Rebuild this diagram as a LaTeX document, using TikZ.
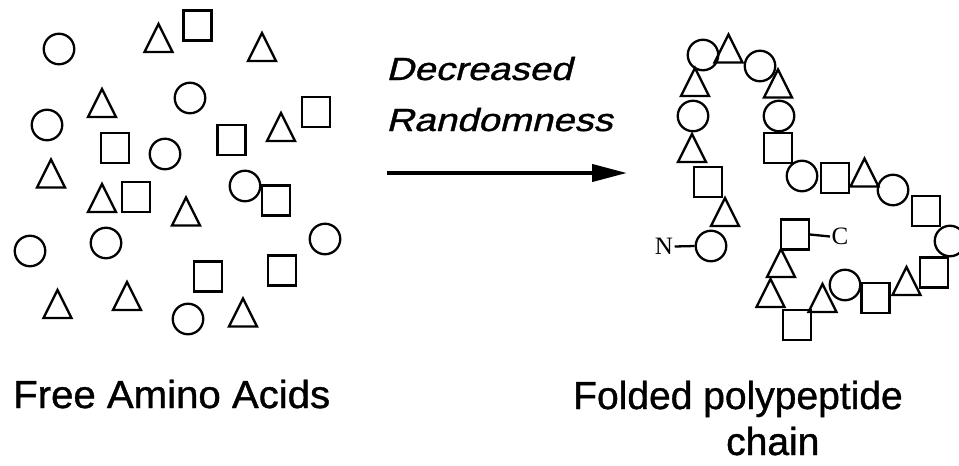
\documentclass[tikz,border=0pt]{standalone}
\usepackage{fontspec}
\usepackage{graphicx}
\setmainfont{Liberation Sans}
\newfontfamily\serifN{Liberation Serif}
\newfontfamily\lblfont[FakeBold=1.0]{Liberation Sans}
\newfontfamily\capfont[FakeBold=1.0,FakeSlant=0.21]{Liberation Sans}
\usetikzlibrary{arrows.meta}
\begin{document}
\begin{tikzpicture}[x=1pt,y=-1pt,
  shp/.style={draw=black,line width=2.3pt},
  ac/.style={shp,circle,minimum size=30.5pt,inner sep=0pt},
  sq/.style={shp,rectangle,minimum width=27.8pt,minimum height=29.8pt,inner sep=0pt},
  tri/.pic={\draw[shp,line join=miter] (-14,14) -- (0,-14) -- (14,14) -- cycle;},
  lbl/.style={inner sep=0pt,anchor=base west,font=\lblfont\fontsize{39}{47}\selectfont},
  ital/.style={inner sep=0pt,anchor=base west,font=\capfont\fontsize{32}{38}\selectfont},
  term/.style={inner sep=1.5pt,font=\serifN\fontsize{25}{25}\selectfont},
  bigarrow/.style={line width=4pt,-{Triangle[length=35pt,width=17pt]}}]
\useasboundingbox (0,0) rectangle (959,466);

% ---------- free amino acids ----------
\node[ac] (la1) at (59,49) {};
\node[ac] (la2) at (190,98) {};
\node[ac] (la3) at (47,125) {};
\node[ac] (la4) at (165,154) {};
\node[ac] (la5) at (245,186) {};
\node[ac] (la6) at (30,251) {};
\node[ac] (la7) at (106,243) {};
\node[ac] (la8) at (325,239) {};
\node[ac] (la9) at (188,319) {};

\node[sq] (ls1) at (197.5,25.5) {};
\node[sq] (ls2) at (316,112) {};
\node[sq] (ls3) at (115,148) {};
\node[sq] (ls4) at (231.5,140) {};
\node[sq] (ls5) at (136,197) {};
\node[sq] (ls6) at (276,200.5) {};
\node[sq] (ls7) at (208,276.5) {};
\node[sq] (ls8) at (282,270.5) {};

\pic at (158.5,38) {tri};
\pic at (262,47) {tri};
\pic at (102,103) {tri};
\pic at (281,127) {tri};
\pic at (51,173.5) {tri};
\pic at (102,198) {tri};
\pic at (186,211.5) {tri};
\pic at (57.5,304) {tri};
\pic at (127,296) {tri};
\pic at (243,312.5) {tri};

% ---------- arrow and caption ----------
\node[ital] (t1) at (386,80) {\scalebox{1.2}[1]{Decreased}};
\node[ital] (t2) at (386,131) {\scalebox{1.2}[1]{Randomness}};
\coordinate (a0) at (387,173);
\coordinate (a1) at (627,173);
\draw[bigarrow] (a0) -- (a1);

% ---------- folded chain ----------
\node[ac] (ra1) at (703,55) {};
\node[ac] (ra2) at (760,66) {};
\node[ac] (ra3) at (693,116) {};
\node[ac] (ra4) at (779,116) {};
\node[ac] (ra5) at (802,176) {};
\node[ac] (ra6) at (893,190) {};
\node[ac] (ra7) at (950,241) {};
\node[ac] (ra8) at (845,285) {};
\node[ac] (cN) at (711,246) {};

\node[sq] (rs1) at (778,148) {};
\node[sq] (rs2) at (835,178) {};
\node[sq] (rs3) at (926,211) {};
\node[sq] (rs4) at (934,272.5) {};
\node[sq] (rs5) at (875.5,298) {};
\node[sq] (rs6) at (797,325) {};
\node[sq] (sqC) at (795,234.5) {};
\node[sq] (rs8) at (708,182) {};

\pic at (728.5,48.5) {tri};
\pic at (695,82) {tri};
\pic at (778,83.5) {tri};
\pic at (692,148) {tri};
\pic at (725,212) {tri};
\pic at (864.5,172.5) {tri};
\pic at (906.5,281) {tri};
\pic at (781,263) {tri};
\pic at (770.5,293) {tri};
\pic at (822.5,298) {tri};

\node[term] (N) at (664,246.5) {N};
\node[term] (C) at (840,236.5) {C};
\draw[shp] (N.east) -- (cN.west);
\draw[shp] (sqC.east) -- (C.west);

% ---------- labels ----------
\node[lbl] (free) at (13,408) {\scalebox{1.03}[1]{Free Amino Acids}};
\node[lbl] (fold) at (573,409) {Folded polypeptide};
\node[lbl] (chain) at (726,455) {chain};
\end{tikzpicture}
\end{document}
